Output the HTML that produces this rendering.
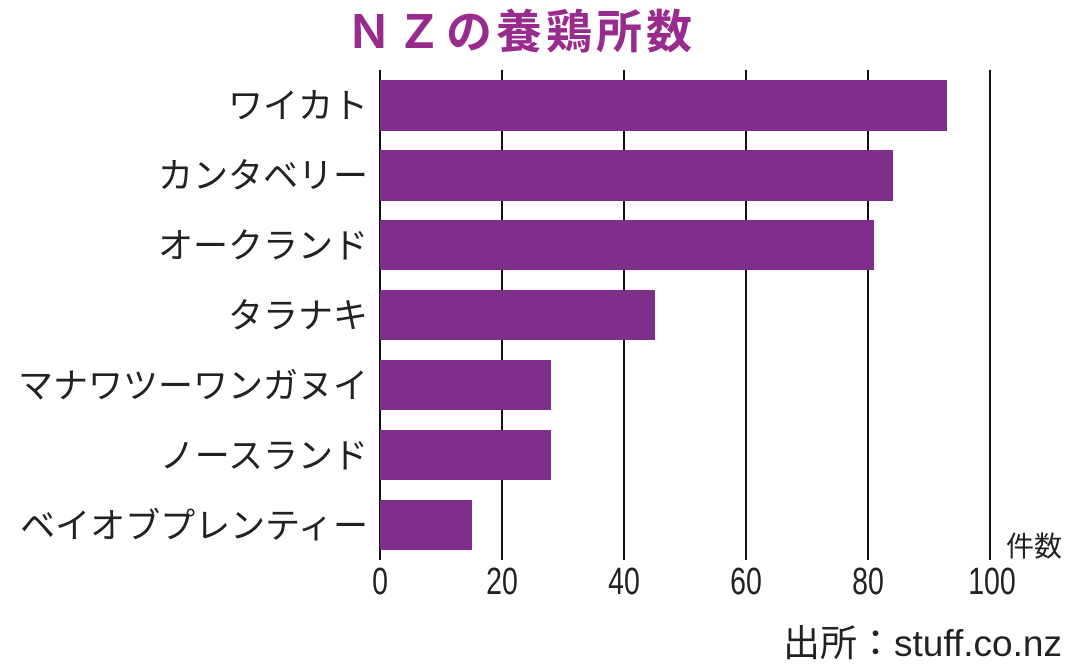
<!DOCTYPE html>
<html><head><meta charset="utf-8"><style>
html,body{margin:0;padding:0;background:#fff;width:1090px;height:664px;overflow:hidden}
</style></head><body>
<svg width="1090" height="664" xmlns="http://www.w3.org/2000/svg" font-family="'Liberation Sans','Noto Sans CJK JP',sans-serif">
<text x="521" y="48" text-anchor="middle" font-size="46" font-weight="bold" fill="#9a2b8e" letter-spacing="4">ＮＺの養鶏所数</text>
<g stroke="#111" stroke-width="2">
<line x1="380" y1="70" x2="380" y2="560"/><line x1="502" y1="70" x2="502" y2="560"/><line x1="624" y1="70" x2="624" y2="560"/><line x1="746" y1="70" x2="746" y2="560"/><line x1="868" y1="70" x2="868" y2="560"/><line x1="990" y1="70" x2="990" y2="560"/>
</g>
<g fill="#7f2f8b">
<rect x="380" y="80" width="567" height="51"/>
<rect x="380" y="150" width="513" height="51"/>
<rect x="380" y="220" width="494" height="50"/>
<rect x="380" y="290" width="275" height="50"/>
<rect x="380" y="360" width="171" height="50"/>
<rect x="380" y="430" width="171" height="50"/>
<rect x="380" y="500" width="92" height="50"/>
</g>
<g font-size="35" fill="#222" text-anchor="end">
<text x="368" y="118">ワイカト</text>
<text x="368" y="188">カンタベリー</text>
<text x="368" y="258">オークランド</text>
<text x="368" y="328">タラナキ</text>
<text x="368" y="398">マナワツーワンガヌイ</text>
<text x="368" y="468">ノースランド</text>
<text x="368" y="538">ベイオブプレンティー</text>
</g>
<g font-size="38" fill="#222" text-anchor="middle">
<text x="380" y="594" transform="translate(380 0) scale(0.75 1) translate(-380 0)">0</text>
<text x="502" y="594" transform="translate(502 0) scale(0.75 1) translate(-502 0)">20</text>
<text x="624" y="594" transform="translate(624 0) scale(0.75 1) translate(-624 0)">40</text>
<text x="746" y="594" transform="translate(746 0) scale(0.75 1) translate(-746 0)">60</text>
<text x="868" y="594" transform="translate(868 0) scale(0.75 1) translate(-868 0)">80</text>
<text x="992" y="594" transform="translate(992 0) scale(0.75 1) translate(-992 0)">100</text>
</g>
<text x="1062" y="556" font-size="28" fill="#222" text-anchor="end">件数</text>
<text x="1062" y="656" font-size="37" fill="#222" text-anchor="end">出所：stuff.co.nz</text>
</svg>
</body></html>
